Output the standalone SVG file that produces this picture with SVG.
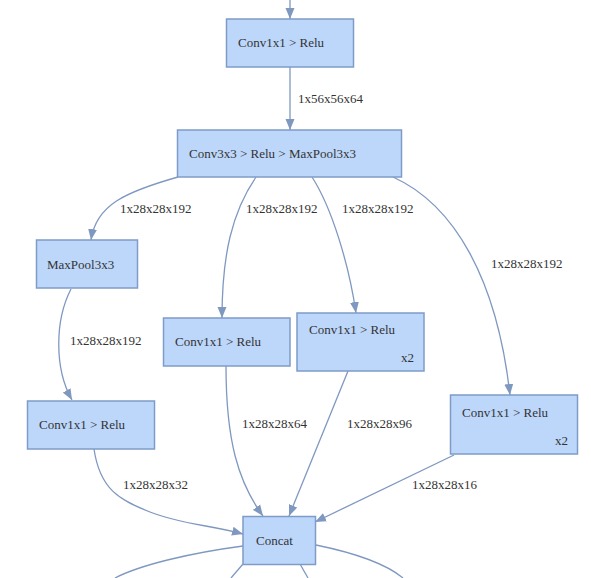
<svg xmlns="http://www.w3.org/2000/svg" width="591" height="578" viewBox="0 0 591 578">
<defs>
<marker id="arr" markerUnits="userSpaceOnUse" markerWidth="12" markerHeight="10" refX="11" refY="5" orient="auto">
<path d="M0,0.5 L11,5 L0,9.5 z" fill="#7f98c0"/>
</marker>
<style>
.n rect{fill:#bdd7fb;stroke:#7f9cc8;stroke-width:1.5}
text{font-family:"Liberation Serif","Times New Roman",serif;font-size:13px;fill:#333}
.e path{fill:none;stroke:#7f98c0;stroke-width:1.3;marker-end:url(#arr)}
.e path.o{marker-end:none}
</style>
</defs>
<rect width="591" height="578" fill="#fff"/>
<g class="e" id="edges">
<path d="M290,0 L290,19"/>
<path d="M290,67 L290,130"/>
<path d="M178,177 C125,192 96,205 91,240"/>
<path d="M256,177 C232,212 222,255 222,318"/>
<path d="M312,177 C332,208 349,265 356,313"/>
<path d="M393,177 C455,205 497,280 510,395"/>
<path d="M71,289 C55,320 54,368 72,400"/>
<path d="M94,449 C100,490 120,500 150,512 S210,525 243,534"/>
<path d="M226,366 C226,440 238,482 263,516"/>
<path d="M348,371 L289,516"/>
<path d="M454,455 L315,522"/>
<path class="o" d="M243,546 C190,553 140,565 115,578"/>
<path class="o" d="M243,564 L231,578"/>
<path class="o" d="M300,564 L308,578"/>
<path class="o" d="M316,545 C350,552 385,563 403,578"/>
<g id="edge-labels">
<text x="298" y="103">1x56x56x64</text>
<text x="120" y="213">1x28x28x192</text>
<text x="246" y="213">1x28x28x192</text>
<text x="342" y="213">1x28x28x192</text>
<text x="491" y="268">1x28x28x192</text>
<text x="70" y="345">1x28x28x192</text>
<text x="242" y="428">1x28x28x64</text>
<text x="347" y="428">1x28x28x96</text>
<text x="123" y="489">1x28x28x32</text>
<text x="412" y="489">1x28x28x16</text>
</g>
</g>
<g class="n" id="n-conv1">
<rect x="226.5" y="19" width="127" height="48"/>
<text x="238" y="47">Conv1x1 &gt; Relu</text>
</g>
<g class="n" id="n-conv3">
<rect x="177.5" y="130" width="224" height="47"/>
<text x="189" y="158">Conv3x3 &gt; Relu &gt; MaxPool3x3</text>
</g>
<g class="n" id="n-maxpool">
<rect x="36.5" y="240" width="101" height="48"/>
<text x="47" y="269">MaxPool3x3</text>
</g>
<g class="n" id="n-b1">
<rect x="163.5" y="318" width="126.5" height="48"/>
<text x="175" y="346">Conv1x1 &gt; Relu</text>
</g>
<g class="n" id="n-b2">
<rect x="297" y="313" width="127" height="58"/>
<text x="309" y="334">Conv1x1 &gt; Relu</text>
<text x="414" y="362" text-anchor="end">x2</text>
</g>
<g class="n" id="n-b3">
<rect x="450.5" y="395" width="127" height="59"/>
<text x="462" y="417">Conv1x1 &gt; Relu</text>
<text x="568" y="445" text-anchor="end">x2</text>
</g>
<g class="n" id="n-b4">
<rect x="27.5" y="401" width="127" height="48"/>
<text x="39" y="429">Conv1x1 &gt; Relu</text>
</g>
<g class="n" id="n-concat">
<rect x="243" y="516.5" width="72.5" height="48"/>
<text x="256" y="545">Concat</text>
</g>
</svg>
